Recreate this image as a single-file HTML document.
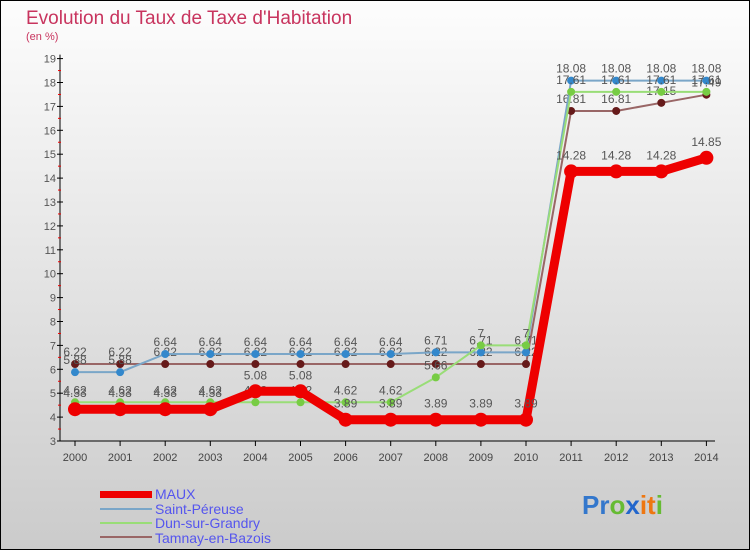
<!DOCTYPE html>
<html><head><meta charset="utf-8"><style>
html,body{margin:0;padding:0;}
body{width:750px;height:550px;overflow:hidden;font-family:"Liberation Sans",sans-serif;}
svg{display:block;}
</style></head><body>
<svg id="chart" width="750" height="550" xmlns="http://www.w3.org/2000/svg">
<defs><linearGradient id="bg" x1="0" y1="0" x2="0" y2="1"><stop offset="0" stop-color="#fdfdfd"/><stop offset="1" stop-color="#cbcbcb"/></linearGradient></defs>
<rect x="0.5" y="0.5" width="749" height="549" fill="url(#bg)" stroke="#000"/>
<text x="26" y="24" font-size="19" fill="#c8345e">Evolution du Taux de Taxe d'Habitation</text>
<text x="26" y="40" font-size="11" fill="#c8345e">(en %)</text>
<g id="axes"></g><g id="series"></g>
<g font-size="14" fill="#5555ee">
<rect x="100" y="491" width="52" height="7" fill="#ee0000"/>
<text x="155" y="499">MAUX</text>
<rect x="100" y="508" width="52" height="2" fill="#7aa6c8"/>
<text x="155" y="514">Saint-Péreuse</text>
<rect x="100" y="522" width="52" height="2" fill="#99dd77"/>
<text x="155" y="528">Dun-sur-Grandry</text>
<rect x="100" y="536" width="52" height="2" fill="#996666"/>
<text x="155" y="543">Tamnay-en-Bazois</text>
</g>
<text x="582" y="514" font-size="26" font-weight="bold"><tspan fill="#3377cc">Pr</tspan><tspan fill="#66bb33">o</tspan><tspan fill="#2266cc">x</tspan><tspan fill="#ee7711">it</tspan><tspan fill="#66bb33">i</tspan></text>
</svg>
<script>
const years=[2000,2001,2002,2003,2004,2005,2006,2007,2008,2009,2010,2011,2012,2013,2014];
const yTicks=[3,4,5,6,7,8,9,10,11,12,13,14,15,16,17,18,19];
const maux=[4.33,4.33,4.33,4.33,5.08,5.08,3.89,3.89,3.89,3.89,3.89,14.28,14.28,14.28,14.85];
const stPereuse=[5.88,5.88,6.64,6.64,6.64,6.64,6.64,6.64,6.71,6.71,6.71,18.08,18.08,18.08,18.08];
const dun=[4.62,4.62,4.62,4.62,4.62,4.62,4.62,4.62,5.66,7,7,17.61,17.61,17.61,17.61];
const tamnay=[6.22,6.22,6.22,6.22,6.22,6.22,6.22,6.22,6.22,6.22,6.22,16.81,16.81,17.15,17.49];
const NS="http://www.w3.org/2000/svg";
const X=i=>75+i*45.1, Y=v=>441-(v-3)*23.9;
function mk(tag,attrs,parent){const e=document.createElementNS(NS,tag);for(const k in attrs)e.setAttribute(k,attrs[k]);parent.appendChild(e);return e;}
const ax=document.getElementById('axes');
const yl=mk('line',{x1:60,y1:Y(19)-4,x2:60,y2:Y(3),stroke:'#000'},ax);


const xl=mk('line',{x1:60,y1:Y(3),x2:715,y2:Y(3),stroke:'#000'},ax);


yTicks.forEach(t=>{
 mk('line',{x1:57,y1:Y(t),x2:63,y2:Y(t),stroke:'#000'},ax);
 if(t<19) mk('line',{x1:58,y1:Y(t+0.5),x2:61,y2:Y(t+0.5),stroke:'#e00'},ax);
 const tx=mk('text',{x:56,y:Y(t)+4,'font-size':11,'text-anchor':'end',fill:'#555'},ax);
 tx.textContent=t;
 
 
});
years.forEach((yr,i)=>{
 mk('line',{x1:X(i),y1:Y(3),x2:X(i),y2:Y(3)+5,stroke:'#000'},ax);
 const tx=mk('text',{x:X(i),y:Y(3)+20,'font-size':11,'text-anchor':'middle',fill:'#444'},ax);
 tx.textContent=yr;
 
 
});
const sg=document.getElementById('series');
function series(vals,name,col,w,r,dot){
 const g=mk('g',{},sg);
 
 
 mk('polyline',{points:vals.map((v,i)=>X(i)+','+Y(v)).join(' '),fill:'none',stroke:col,'stroke-width':w},g);
 vals.forEach((v,i)=>{
  const c=mk('circle',{cx:X(i),cy:Y(v),r:r,fill:dot},g);
  
  
  const t=mk('text',{x:X(i),y:Y(v)-8-(r>5?4:0),'font-size':12,'text-anchor':'middle',fill:'#555'},g);
  t.textContent=v.toFixed(2).replace(/\.?0+$/,'');
  
  
 });
}
series(tamnay,'tamnay-en-bazois','#996666',2,4,'#661a1a');
series(stPereuse,'saint-pereuse','#7aa6c8',2,4,'#3388cc');
series(dun,'dun-sur-grandry','#99dd77',2,4,'#77cc44');
series(maux,'maux','#ee0000',9,7,'#ee0000');
</script>
</body></html>
